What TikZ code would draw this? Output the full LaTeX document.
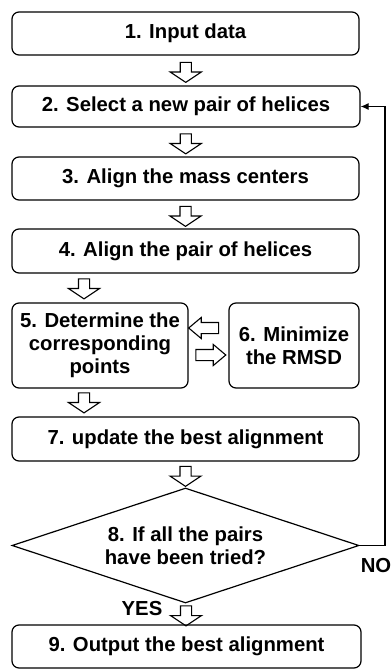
\documentclass[tikz,border=0pt]{standalone}
\usepackage{fontspec}
\setmainfont{Liberation Sans}
\usetikzlibrary{shapes.geometric,shapes.arrows,arrows.meta,calc}
\begin{document}
\begin{tikzpicture}[x=1pt,y=-1pt,
  every node/.style={font=\bfseries\fontsize{20.3}{23}\selectfont},
  box/.style={draw,line width=1.2pt,rounded corners=7pt,align=center,inner sep=0pt},
  decision/.style={draw,diamond,shape aspect=3,line width=1.2pt,align=center,inner sep=0pt},
  varrow/.style={draw,single arrow,line width=1.1pt,inner sep=5pt,
    single arrow head extend=10pt,single arrow tip angle=113,
    minimum height=20pt,rotate=-90},
  harrow/.style={draw,single arrow,line width=1.1pt,inner sep=5pt,
    single arrow head extend=5pt,single arrow tip angle=80,
    minimum height=30pt},
  lbl/.style={inner sep=0pt}]
\useasboundingbox (0,0) rectangle (391,669);
\node[box,minimum width=347pt,minimum height=43pt] (n1) at (185.5,33.5) {1. Input data};
\node[box,minimum width=348pt,minimum height=41pt] (n2) at (186,106.5) {2. Select a new pair of helices};
\node[box,minimum width=347pt,minimum height=43pt] (n3) at (185.5,178.5) {3. Align the mass centers};
\node[box,minimum width=347pt,minimum height=44pt] (n4) at (185.5,251) {4. Align the pair of helices};
\node[box,minimum width=176pt,minimum height=85pt] (n5) at (100,345.5) {5. Determine the\\corresponding\\points};
\node[box,minimum width=130pt,minimum height=85pt] (n6) at (294,345.5) {6. Minimize\\the RMSD};
\node[box,minimum width=347pt,minimum height=44pt] (n7) at (185.5,439) {7. update the best alignment};
\node[decision,minimum width=347pt,minimum height=115pt] (n8) at (185.5,545.5) {8. If all the pairs\\have been tried?};
\node[box,minimum width=349pt,minimum height=43pt] (n9) at (186.5,646.5) {9. Output the best alignment};

\node[varrow] (a12) at ($(n1.south)!0.5!(n2.north)$) {};
\node[varrow] (a23) at ($(n2.south)!0.5!(n3.north)$) {};
\node[varrow] (a34) at ($(n3.south)!0.5!(n4.north)$) {};
\node[varrow] (a45) at (84,287) {};
\node[varrow] (a57) at (84,401) {};
\node[varrow] (a78) at ($(n7.south)!0.5!(n8.north)$) {};
\node[varrow] (a89) at ($(n8.south)!0.5!(n9.north)$) {};
\node[harrow,rotate=180] (a65) at (207,328) {};
\node[harrow] (a56) at (207.5,355) {};

\coordinate (lp) at (385,545.5);
\draw[line width=1.2pt,-{Latex[length=8pt,width=7pt]}] (n8.east) -- (lp) |- (n2.east);
\node[lbl] (no) at (376,566) {NO};
\node[lbl] (yes) at (142,609) {YES};
\end{tikzpicture}
\end{document}
